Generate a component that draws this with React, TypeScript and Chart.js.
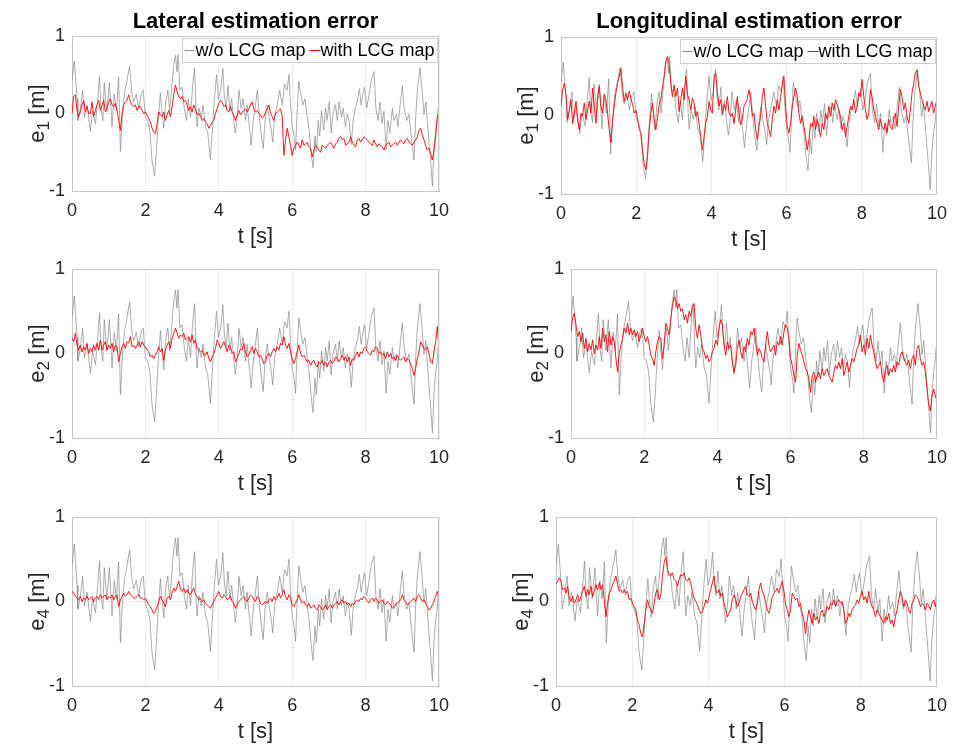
import React, { useEffect, useRef } from "react";
import { Chart, registerables } from "chart.js";
Chart.register(...registerables);

// ---------------- data ----------------
const X_MIN = 0;
const X_MAX = 10;
const X_STEP = 2;
const Y_MIN = -1;
const Y_MAX = 1;
const Y_STEP = 1;

const TITLE_LEFT = "Lateral estimation error";
const TITLE_RIGHT = "Longitudinal estimation error";
const X_LABEL = "t [s]";
const LEGEND_LABELS = ["w/o LCG map", "with LCG map"];

// "w/o LCG map" (same reference signal in every panel), sampled at its turning points
const GRAY_T = [0.00,0.06,0.14,0.16,0.23,0.29,0.34,0.41,0.50,0.56,0.64,0.70,0.75,0.79,0.84,0.88,0.95,1.02,1.09,1.15,1.21,1.27,1.32,1.37,1.43,1.48,1.57,1.63,1.68,1.75,1.82,1.88,1.94,2.00,2.06,2.12,2.18,2.25,2.30,2.35,2.41,2.45,2.50,2.55,2.61,2.66,2.71,2.77,2.82,2.86,2.89,2.94,3.00,3.06,3.12,3.17,3.23,3.29,3.34,3.38,3.41,3.46,3.52,3.57,3.64,3.70,3.77,3.83,3.88,3.94,3.99,4.05,4.11,4.15,4.20,4.25,4.30,4.35,4.41,4.45,4.50,4.55,4.61,4.66,4.73,4.77,4.84,4.88,4.94,5.00,5.05,5.10,5.15,5.21,5.26,5.32,5.37,5.43,5.47,5.52,5.59,5.66,5.73,5.79,5.86,5.91,5.95,6.00,6.05,6.09,6.14,6.18,6.23,6.29,6.35,6.41,6.46,6.52,6.57,6.62,6.66,6.71,6.75,6.80,6.86,6.91,6.95,7.01,7.06,7.11,7.18,7.23,7.28,7.34,7.39,7.45,7.50,7.55,7.61,7.66,7.72,7.77,7.83,7.88,7.92,7.97,8.03,8.09,8.15,8.23,8.28,8.34,8.39,8.45,8.50,8.56,8.61,8.66,8.73,8.77,8.84,8.88,8.95,9.00,9.05,9.12,9.18,9.25,9.32,9.36,9.41,9.45,9.48,9.54,9.59,9.64,9.68,9.73,9.77,9.82,9.86,9.91,9.95,9.98,10.00];
const GRAY_V = [0.42,0.68,0.19,-0.09,0.07,0.30,-0.05,0.11,-0.23,0.03,-0.13,0.19,0.48,0.07,-0.09,0.40,0.03,0.40,-0.17,0.25,0.03,0.47,-0.49,-0.05,0.27,0.38,0.61,0.27,0.15,0.25,0.07,0.25,0.30,-0.05,-0.09,-0.21,-0.60,-0.81,-0.49,-0.09,0.27,0.03,-0.19,0.15,0.30,0.03,0.28,0.62,0.75,0.54,0.76,0.30,0.34,0.07,-0.09,0.19,-0.05,0.38,0.59,0.07,-0.17,0.07,-0.05,0.11,-0.17,-0.25,-0.59,-0.17,0.19,0.50,0.19,0.30,0.58,0.23,0.07,0.36,0.03,0.19,-0.09,-0.25,-0.05,0.30,0.07,0.19,-0.09,0.11,-0.21,-0.41,-0.09,0.11,0.30,-0.01,-0.25,-0.45,-0.09,0.11,-0.05,-0.21,-0.37,-0.05,0.11,0.30,0.11,0.38,0.30,0.50,0.15,-0.17,-0.29,-0.47,0.07,0.42,0.26,0.11,0.19,-0.05,-0.21,-0.53,-0.70,-0.29,-0.49,-0.09,-0.29,0.03,-0.21,0.07,-0.09,0.15,-0.25,-0.01,0.11,-0.09,0.15,-0.05,0.07,-0.17,-0.01,-0.09,-0.40,-0.09,0.07,0.15,0.32,0.11,0.23,0.34,0.07,0.23,0.42,0.54,0.07,-0.09,0.15,-0.13,0.03,-0.47,-0.09,-0.25,0.07,-0.09,-0.01,-0.17,0.15,0.36,0.07,-0.09,-0.01,-0.33,-0.60,-0.09,0.30,0.46,0.59,0.30,-0.01,0.15,-0.09,-0.39,-0.61,-0.94,-0.49,-0.21,-0.09,0.07,-0.31];

// "with LCG map" series, evenly sampled over 0..10 s
const RED_LAT_E1 = [
0,0.22,0.24,0.04,-0.04,0.02,0.11,0.17,0.02,0.09,
0,0,0.15,-0.04,0.04,0.11,0.17,0.04,0.11,0.17,
0.02,0.06,0.15,0.19,0.11,0.09,0.13,0.04,-0.09,-0.22,
0,0.11,0.15,0.17,0.24,0.15,0.11,0.09,0.11,0.04,
0.09,0.09,0.04,0,0.02,-0.02,-0.06,-0.11,-0.19,-0.24,
-0.26,-0.13,0.02,-0.02,-0.04,0.02,-0.09,-0.02,0.04,-0.04,
0.09,0.24,0.37,0.28,0.22,0.19,0.22,0.15,0.17,0.11,
0.04,0.09,0.02,0.11,0.06,-0.02,0,-0.04,-0.09,-0.06,
-0.11,-0.13,-0.19,-0.15,-0.11,-0.09,0,0.06,0.13,0.17,
0.15,0.09,0.11,0.04,0.02,0.09,0.02,-0.02,-0.09,-0.02,
0.04,-0.02,0.02,0.04,0.06,0.02,0.06,0.11,0.15,0.06,
0.02,0.04,0,-0.02,-0.06,-0.04,0.02,0.06,0.11,0,
-0.04,-0.09,0,0.02,0.04,0.06,-0.02,-0.54,-0.34,-0.19,
-0.30,-0.41,-0.54,-0.45,-0.41,-0.37,-0.41,-0.45,-0.34,-0.41,
-0.39,-0.37,-0.43,-0.45,-0.56,-0.47,-0.41,-0.43,-0.47,-0.50,
-0.41,-0.43,-0.45,-0.41,-0.39,-0.37,-0.41,-0.45,-0.39,-0.37,
-0.32,-0.30,-0.34,-0.32,-0.41,-0.39,-0.37,-0.30,-0.37,-0.41,
-0.43,-0.34,-0.32,-0.37,-0.34,-0.30,-0.32,-0.34,-0.37,-0.39,
-0.41,-0.34,-0.39,-0.43,-0.39,-0.41,-0.43,-0.47,-0.41,-0.39,
-0.37,-0.43,-0.41,-0.39,-0.37,-0.41,-0.37,-0.34,-0.37,-0.39,
-0.34,-0.32,-0.37,-0.39,-0.41,-0.37,-0.34,-0.30,-0.22,-0.19,
-0.28,-0.34,-0.41,-0.47,-0.45,-0.52,-0.60,-0.47,-0.30,-0.04,
0.02];

const RED_LAT_E2 = [
0.18,0.14,0.24,0.10,0.04,0.10,0.02,0.08,0.04,0.12,
0,0.06,0.02,0.10,0.04,0.12,0.04,0.16,0.04,0.10,
0.14,0.04,0.10,0.06,0.12,0.02,0.10,0.08,-0.10,0,
0.08,0.12,0.06,0.14,0.12,0.20,0.08,0.10,0.06,0.10,
0.14,0.08,0.14,0.10,0.08,0.04,0.02,-0.04,-0.02,-0.06,
-0.02,0.02,0.08,0.02,0.06,-0.08,0.04,0.10,0.14,0.06,
0.18,0.24,0.30,0.24,0.18,0.22,0.20,0.24,0.16,0.18,
0.20,0.14,0.22,0.12,0.16,0.06,0.04,0.02,0.04,-0.02,
-0.02,0.02,-0.06,-0.10,-0.04,0,0.06,0.16,0.12,0.06,
0.10,0.14,0.08,0.02,0.10,0.08,0,0.02,-0.10,-0.06,
0,0.06,0.04,0.12,0.02,-0.04,-0.02,0.04,0.08,0,
0.06,0.02,-0.04,-0.02,-0.06,-0.12,-0.10,-0.02,0,-0.04,
0.02,0.06,0.02,0.08,0.04,0.12,0.10,0.20,0.10,0.06,
0.12,0.02,-0.06,-0.12,-0.06,0.02,0.10,0,-0.04,-0.02,
-0.06,-0.10,-0.08,-0.14,-0.10,-0.08,-0.14,-0.16,-0.10,-0.12,
-0.08,-0.14,-0.10,-0.16,-0.10,-0.08,-0.12,-0.10,-0.04,-0.06,
-0.10,-0.06,-0.02,-0.08,-0.04,-0.10,-0.04,-0.14,-0.06,-0.08,
-0.02,0.02,-0.04,0.02,0,0.06,0.08,0.02,0,-0.02,
0.04,0.02,0.08,0.06,0,0.02,-0.02,0,-0.06,0.02,
-0.04,0,-0.06,-0.04,-0.08,-0.02,-0.06,-0.08,-0.06,-0.04,
-0.10,-0.06,-0.08,-0.12,-0.18,-0.26,-0.18,-0.06,0.02,0.14,
0.10,0.06,0.04,0.08,0,-0.10,-0.12,0.02,0.14,0.32,
0.04];

const RED_LAT_E4 = [
0.12,0.10,0.06,0.04,0.02,0.06,0,0.04,0.02,0.06,
0.02,0.04,0.06,0,0.04,0.06,0.02,0.08,0.04,0.06,
0.08,0.02,0.06,0.04,0.08,0.02,0.06,0.08,-0.06,0.02,
0.06,0.10,0.06,0.08,0.12,0.08,0.06,0.04,0.04,0.06,
0.08,0.04,0.04,0.02,0.04,0,-0.04,-0.06,-0.10,-0.14,
-0.12,-0.06,0,0.06,0.02,-0.02,-0.06,0.04,0.06,0.02,
0.10,0.16,0.12,0.18,0.24,0.14,0.12,0.16,0.10,0.14,
0.10,0.08,0.12,0.16,0.08,0.06,0.02,0.04,0,0.02,
-0.02,-0.04,-0.06,-0.08,-0.04,0,0.04,0.08,0.12,0.06,
0.04,0.08,0.06,0.02,0.04,0.06,0,-0.02,-0.08,-0.04,
0,0.02,0.04,0.06,0.02,0,0.04,0.08,0.06,0.02,
0,0.06,0.04,-0.02,-0.04,-0.02,0,-0.02,0.02,0.04,
0,0.06,0.02,0.04,0.10,0.04,0.08,0.14,0.06,0.02,
0.08,0.04,-0.04,-0.06,-0.02,0.02,0.08,0.02,-0.02,0,
-0.04,-0.06,-0.02,-0.08,-0.06,-0.04,-0.08,-0.10,-0.04,-0.06,
-0.10,-0.08,-0.04,-0.10,-0.06,-0.04,-0.08,-0.04,-0.02,0,
-0.04,0,0.02,-0.02,0,-0.04,-0.02,-0.06,-0.02,-0.04,
0,0.02,0,0.04,0.02,0.06,0.04,0,-0.02,0.02,
0.04,0,0.04,0.02,-0.02,0,0.02,-0.02,-0.04,0,
-0.02,-0.04,-0.08,-0.06,-0.04,-0.02,0,0.02,0.08,0.02,
0,-0.04,-0.02,0,0.02,0.04,0,0.06,0.08,0.04,
0,0.02,-0.02,-0.06,-0.10,-0.08,-0.04,0,0.06,0.12,
0.02];

const RED_LON_E1 = [
0.12,0.33,0.41,0.27,-0.05,0.07,0.20,-0.10,0.03,0.18,
-0.07,-0.18,0.03,-0.01,0.16,-0.05,0.07,0.18,0.03,0.35,
0.12,-0.10,0.24,0.37,0.12,0.03,0.27,0.20,0.03,-0.18,
-0.35,-0.07,0.12,0.29,0.41,0.50,0.60,0.37,0.18,0.29,
0.20,0.31,0.22,0.14,0.03,0.07,-0.03,-0.18,-0.22,-0.44,
-0.61,-0.69,-0.52,-0.18,0.03,0.16,-0.05,-0.18,-0.03,0.14,
0.20,0.37,0.50,0.69,0.75,0.65,0.41,0.24,0.39,0.24,
0.35,0.05,0.20,0.35,0.20,0.50,0.27,0.20,0.07,0.22,
0.16,-0.01,0.05,-0.10,-0.27,-0.44,-0.27,-0.10,-0.01,0.18,
0.07,0.03,0.50,0.54,0.29,0.12,0.20,0.01,0.14,0.07,
0.24,0.03,-0.01,0.03,-0.10,0.07,0.24,0.03,-0.12,-0.05,
0.12,0.16,0.22,0.33,0.20,-0.01,0.03,-0.18,-0.31,-0.14,
-0.01,0.24,0.35,0.12,-0.10,-0.18,-0.27,-0.05,0.12,0.03,
0.20,0.07,0.24,0.39,0.50,0.12,-0.14,-0.22,-0.10,0.12,
0.24,0.35,0.24,0.03,-0.10,-0.01,-0.14,-0.27,-0.44,-0.31,
-0.10,-0.14,-0.01,-0.18,-0.05,-0.14,-0.27,-0.10,-0.18,0.03,
-0.05,0.12,-0.01,0.16,0.07,0.20,0.14,0.07,-0.01,-0.18,
-0.10,-0.27,-0.14,-0.01,0.12,0.07,0.20,0.03,0.12,0.29,
0.24,0.46,0.24,0.07,-0.05,0.03,0.33,0.24,0.07,-0.01,
-0.10,-0.18,-0.05,-0.14,-0.18,-0.10,-0.22,-0.05,-0.14,-0.18,
-0.05,0.03,-0.14,0.12,0.33,0.24,0.07,0.16,-0.01,-0.10,
0.07,0.29,0.41,0.54,0.58,0.37,0.29,0.20,0.12,0.07,
0.18,0.05,0.12,0.18,0.03,0.12,0.20];

const RED_LON_E2 = [
0.26,0.42,0.48,0.34,0.20,0.26,0.14,0.24,0.06,0.18,
0.02,0.12,0.04,0.16,0,0.10,0.04,0.20,0.06,0.30,
0.14,0.22,0.02,0.26,0.10,0.20,0.14,-0.06,-0.22,0,
0.10,0.18,0.30,0.24,0.36,0.22,0.30,0.22,0.28,0.20,
0.26,0.14,0.22,0.30,0.20,0.14,0.20,0.10,-0.02,-0.06,
-0.14,0.02,0.14,0.20,0.18,-0.06,0.10,0.36,0.30,0.22,
0.42,0.57,0.67,0.63,0.53,0.59,0.50,0.53,0.40,0.46,
0.36,0.50,0.44,0.57,0.59,0.30,0.18,0.34,0.22,0.06,
0.02,-0.06,-0.02,-0.10,-0.06,0.02,0.06,0.16,0.10,0.30,
0.40,0.34,0.10,-0.02,0.14,0.06,0.10,-0.10,-0.22,-0.14,
0.06,0.16,0.02,-0.06,0.08,0.02,0.18,0.10,0.26,0.22,
0.30,0.14,-0.02,0.06,0.02,-0.06,-0.10,0.10,0.26,0.10,
0.02,0.06,0.10,-0.02,0.14,0.10,0.20,0.10,0.26,0.34,
0.30,0.18,-0.06,-0.14,-0.26,-0.34,-0.02,0.12,0.04,-0.02,
-0.10,-0.18,-0.22,-0.30,-0.46,-0.26,-0.22,-0.34,-0.26,-0.22,
-0.30,-0.18,-0.26,-0.22,-0.18,-0.26,-0.30,-0.34,-0.22,-0.14,
-0.18,-0.10,-0.18,-0.06,-0.26,-0.18,-0.10,-0.22,-0.14,-0.06,
-0.10,-0.02,0.06,0.10,0.22,0.02,0.10,-0.02,0.18,0.06,
0.22,0.10,0.02,-0.10,-0.18,-0.14,-0.10,-0.26,-0.34,-0.18,
-0.14,-0.26,-0.18,-0.22,-0.14,-0.22,-0.10,-0.14,-0.02,0.02,
-0.06,-0.10,-0.14,-0.08,-0.18,-0.06,-0.02,-0.14,0.06,0.10,
-0.06,-0.14,-0.10,-0.22,-0.42,-0.60,-0.68,-0.50,-0.42,-0.50,
-0.57];

const RED_LON_E4 = [
0.20,0.24,0.28,0.24,0.14,0.16,0.10,0.18,0.04,0,
0.06,-0.02,0.02,0.08,0,0.06,0.12,0.18,0.06,0.14,
0.08,0.18,0.06,0.12,0.20,0.14,0.22,0.14,0.20,0.02,
-0.18,-0.02,0.10,0.14,0.20,0.24,0.30,0.20,0.12,0.14,
0.10,0.14,0.10,0.12,0.02,0.04,-0.02,-0.06,-0.10,-0.22,
-0.28,-0.38,-0.42,-0.26,-0.10,0.02,-0.06,-0.10,-0.14,-0.02,
0.10,0.14,0.02,0.08,0.30,0.46,0.53,0.38,0.32,0.30,
0.34,0.26,0.24,0.18,0.26,0.32,0.30,0.34,0.26,0.24,
0.28,0.22,0.12,0.04,0,-0.04,-0.10,-0.14,-0.12,-0.06,
0.02,-0.02,0.06,0.14,0.22,0.30,0.14,0.10,0.14,0.06,
0.10,-0.02,-0.10,-0.18,-0.14,-0.10,0.02,0.08,0.02,-0.06,
-0.02,0.06,0.10,0.14,0.18,0.08,0.06,0.10,0,-0.06,
-0.10,-0.02,0.14,0.22,0.12,0.08,-0.02,-0.10,-0.14,-0.06,
0.06,0.10,0.12,0.16,0.10,0.18,0.24,0.12,-0.04,-0.10,
-0.18,-0.10,0.10,0.06,0.02,0.04,-0.06,-0.02,-0.14,-0.22,
-0.38,-0.22,-0.10,-0.18,-0.26,-0.14,-0.22,-0.18,-0.26,-0.14,
-0.10,-0.18,-0.14,-0.06,-0.10,-0.02,-0.04,0.02,-0.06,0,
0.02,-0.02,0,-0.10,-0.26,-0.22,-0.14,-0.18,-0.10,-0.06,
-0.04,0.02,-0.02,0.06,0.12,0.02,0.06,-0.02,0.12,0,
-0.06,-0.10,-0.18,-0.10,-0.14,-0.18,-0.22,-0.26,-0.18,-0.22,
-0.14,-0.26,-0.22,-0.30,-0.18,-0.10,0.02,0.12,0.06,-0.06,
0.02,-0.02,-0.10,-0.14,-0.02,0.02,0.08,0.06,0.02,-0.06,
-0.02,-0.04,-0.10,-0.02,-0.04,-0.10,-0.02,0.02,-0.06,0];

// ---------------- styling ----------------
const FONT = '"Liberation Sans", Arial, Helvetica, sans-serif';
const TEXT = "#262626";
const AXIS = "#c6c6c6";
const GRID = "#eeeeee";
const GRAY = "#8a8a8a";
const RED = "#ff0000";

type Panel = {
  id: string;
  left: number; top: number; width: number; height: number;
  area: { left: number; top: number; right: number; bottom: number };
  red: number[];
  sub: string;
  title?: string;
  legend?: boolean;
};

const PANELS: Panel[] = [
  { id: "lat1", left: 0, top: 0, width: 478, height: 250, area: { left: 72, top: 36, right: 439, bottom: 191 }, red: RED_LAT_E1, sub: "1", title: TITLE_LEFT, legend: true },
  { id: "lon1", left: 478, top: 0, width: 478, height: 250, area: { left: 83, top: 37, right: 460, bottom: 194 }, red: RED_LON_E1, sub: "1", title: TITLE_RIGHT, legend: true },
  { id: "lat2", left: 0, top: 250, width: 478, height: 248, area: { left: 72, top: 19, right: 439, bottom: 188 }, red: RED_LAT_E2, sub: "2" },
  { id: "lon2", left: 478, top: 250, width: 478, height: 248, area: { left: 93, top: 19, right: 460, bottom: 188 }, red: RED_LON_E2, sub: "2" },
  { id: "lat4", left: 0, top: 498, width: 478, height: 247, area: { left: 72, top: 19, right: 439, bottom: 188 }, red: RED_LAT_E4, sub: "4" },
  { id: "lon4", left: 478, top: 498, width: 478, height: 247, area: { left: 78, top: 19, right: 460, bottom: 188 }, red: RED_LON_E4, sub: "4" },
];

function evenly(vals: number[]) {
  const n = vals.length;
  return vals.map((v, i) => ({ x: X_MIN + (i * (X_MAX - X_MIN)) / (n - 1), y: v }));
}
function grayPoints() {
  const n = Math.min(GRAY_T.length, GRAY_V.length);
  const out: { x: number; y: number }[] = [];
  for (let i = 0; i < n; i++) out.push({ x: GRAY_T[i], y: GRAY_V[i] });
  return out;
}

function decoPlugin(p: Panel) {
  return {
    id: "deco_" + p.id,
    beforeDraw(chart: any) {
      const ctx = chart.ctx;
      ctx.save();
      ctx.fillStyle = "#ffffff";
      ctx.fillRect(0, 0, chart.width, chart.height);
      ctx.restore();
    },
    afterDraw(chart: any) {
      const ctx = chart.ctx as CanvasRenderingContext2D;
      const a = chart.chartArea;
      ctx.save();
      // top & right box lines
      ctx.strokeStyle = AXIS;
      ctx.lineWidth = 1;
      ctx.beginPath();
      const t = Math.round(a.top) + 0.5;
      const r = Math.round(a.right) - 0.5;
      ctx.moveTo(a.left, t);
      ctx.lineTo(r, t);
      ctx.lineTo(r, a.bottom);
      ctx.stroke();

      const cx = (a.left + a.right) / 2;
      // title
      if (p.title) {
        ctx.fillStyle = "#000000";
        ctx.font = `bold 22px ${FONT}`;
        ctx.textAlign = "center";
        ctx.textBaseline = "alphabetic";
        ctx.fillText(p.title, cx, 28);
      }
      // x label
      ctx.fillStyle = TEXT;
      ctx.font = `22px ${FONT}`;
      ctx.textAlign = "center";
      ctx.textBaseline = "middle";
      ctx.fillText(X_LABEL, cx, a.bottom + 46);

      // y label: e_sub [m]
      ctx.save();
      ctx.translate(a.left - 34, (a.top + a.bottom) / 2);
      ctx.rotate(-Math.PI / 2);
      const mainFont = `22px ${FONT}`;
      const subFont = `17px ${FONT}`;
      ctx.font = mainFont;
      const wE = ctx.measureText("e").width;
      const wRest = ctx.measureText(" [m]").width;
      ctx.font = subFont;
      const wS = ctx.measureText(p.sub).width;
      let x = -(wE + wS + wRest) / 2;
      ctx.textAlign = "left";
      ctx.textBaseline = "middle";
      ctx.fillStyle = TEXT;
      ctx.font = mainFont;
      ctx.fillText("e", x, 0);
      x += wE;
      ctx.font = subFont;
      ctx.fillText(p.sub, x, 6);
      x += wS;
      ctx.font = mainFont;
      ctx.fillText(" [m]", x, 0);
      ctx.restore();

      // legend
      if (p.legend) {
        ctx.font = `18px ${FONT}`;
        const w1 = ctx.measureText(LEGEND_LABELS[0]).width;
        const w2 = ctx.measureText(LEGEND_LABELS[1]).width;
        const boxW = 2 + 10 + 1 + w1 + 4 + 11 + w2 + 3;
        const boxH = 24;
        const bx = Math.round(a.right - 2 - boxW) + 0.5;
        const by = Math.round(a.top + 2) + 0.5;
        ctx.fillStyle = "#ffffff";
        ctx.fillRect(bx, by, boxW, boxH);
        ctx.strokeStyle = "#cfcfcf";
        ctx.lineWidth = 1;
        ctx.strokeRect(bx, by, boxW, boxH);
        const my = by + boxH / 2;
        let lx = bx + 2;
        ctx.strokeStyle = GRAY;
        ctx.beginPath();
        ctx.moveTo(lx, my);
        ctx.lineTo(lx + 10, my);
        ctx.stroke();
        lx += 11;
        ctx.fillStyle = "#000000";
        ctx.textAlign = "left";
        ctx.textBaseline = "middle";
        ctx.fillText(LEGEND_LABELS[0], lx, my + 1);
        lx += w1 + 4;
        ctx.strokeStyle = RED;
        ctx.beginPath();
        ctx.moveTo(lx, my);
        ctx.lineTo(lx + 11, my);
        ctx.stroke();
        lx += 11;
        ctx.fillText(LEGEND_LABELS[1], lx, my + 1);
      }
      ctx.restore();
    },
  };
}

function makeConfig(p: Panel): any {
  return {
    type: "line",
    data: {
      datasets: [
        {
          label: LEGEND_LABELS[1],
          data: evenly(p.red),
          borderColor: RED,
          borderWidth: 0.9,
          pointRadius: 0,
          tension: 0,
          fill: false,
          borderJoinStyle: "round",
        },
        {
          label: LEGEND_LABELS[0],
          data: grayPoints(),
          borderColor: GRAY,
          borderWidth: 0.7,
          pointRadius: 0,
          tension: 0,
          fill: false,
          borderJoinStyle: "round",
        },
      ],
    },
    options: {
      responsive: false,
      animation: false,
      devicePixelRatio: 1,
      events: [],
      layout: {
        padding: { left: 0, top: p.area.top, right: p.width - p.area.right, bottom: 0 },
      },
      plugins: {
        legend: { display: false },
        title: { display: false },
        tooltip: { enabled: false },
      },
      scales: {
        x: {
          type: "linear",
          min: X_MIN,
          max: X_MAX,
          afterFit: (s: any) => {
            s.height = p.height - p.area.bottom;
          },
          grid: { color: GRID, drawTicks: false, lineWidth: 1 },
          border: { display: true, color: AXIS, width: 1 },
          ticks: {
            stepSize: X_STEP,
            padding: 9,
            color: TEXT,
            font: { family: FONT, size: 18 },
            maxRotation: 0,
          },
        },
        y: {
          type: "linear",
          min: Y_MIN,
          max: Y_MAX,
          afterFit: (s: any) => {
            s.width = p.area.left;
          },
          grid: { color: GRID, drawTicks: false, lineWidth: 1 },
          border: { display: true, color: AXIS, width: 1 },
          ticks: {
            stepSize: Y_STEP,
            padding: 7,
            color: TEXT,
            font: { family: FONT, size: 18 },
          },
        },
      },
    },
    plugins: [decoPlugin(p)],
  };
}

function PanelChart({ p }: { p: Panel }) {
  const ref = useRef<HTMLCanvasElement | null>(null);
  useEffect(() => {
    if (!ref.current) return;
    const chart = new Chart(ref.current, makeConfig(p));
    return () => chart.destroy();
  }, [p]);
  return (
    <canvas
      ref={ref}
      width={p.width}
      height={p.height}
      style={{ position: "absolute", left: p.left, top: p.top, width: p.width, height: p.height }}
    />
  );
}

export default function App() {
  return (
    <div
      style={{
        position: "absolute",
        left: 0,
        top: 0,
        width: 956,
        height: 745,
        background: "#ffffff",
        overflow: "hidden",
      }}
    >
      {PANELS.map((p) => (
        <PanelChart key={p.id} p={p} />
      ))}
    </div>
  );
}
